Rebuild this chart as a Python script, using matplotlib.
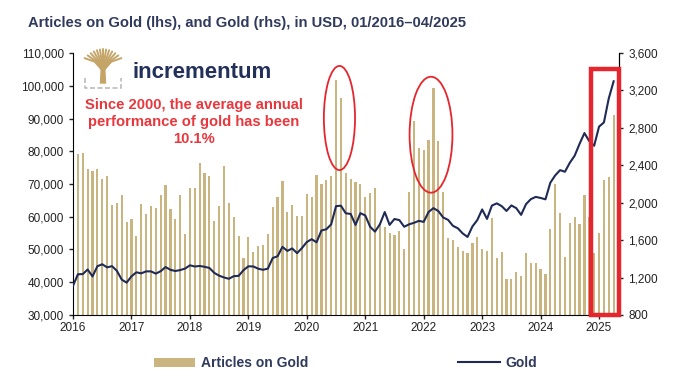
import numpy as np
import matplotlib.pyplot as plt
from matplotlib.patches import Ellipse, Rectangle
from matplotlib.lines import Line2D
from matplotlib.patches import Patch

plt.rcParams['font.family'] = ['Liberation Sans', 'DejaVu Sans']

# monthly data, 01/2016 - 04/2025
articles = [79200, 79600, 74500, 74000, 74700, 71400, 72500, 63600, 64100, 66600, 58500, 59200,
            54100, 63900, 60800, 63400, 62800, 66600, 69600, 62300, 59300, 66600, 54600, 68700,
            68700, 76300, 73500, 72400, 58700, 63400, 75600, 64100, 60000, 54200, 47300, 53900,
            49300, 51200, 51400, 54600, 63100, 66100, 71000, 61300, 63600, 60200, 60200, 66800,
            66100, 72800, 70000, 71200, 72400, 101800, 96400, 73300, 71400, 70700, 69900, 65900,
            67200, 68700, 58200, 57000, 55100, 54400, 55500, 50100, 67700, 89200, 80900, 80400,
            83400, 99200, 83200, 67700, 53400, 52900, 50700, 49600, 48800, 51900, 53900, 50200,
            49600, 59500, 47300, 49300, 40900, 40900, 43000, 41900, 48800, 45800, 45800, 44000,
            42400, 56200, 70000, 61100, 47700, 58200, 59800, 57700, 66600, 60000, 49000, 55100,
            71200, 72000, 91200]

gold = [1112, 1235, 1237, 1286, 1212, 1321, 1342, 1309, 1322, 1272, 1178, 1146,
        1213, 1256, 1245, 1266, 1266, 1242, 1268, 1312, 1283, 1270, 1280, 1296,
        1331, 1318, 1324, 1315, 1303, 1250, 1220, 1201, 1187, 1215, 1218, 1279,
        1320, 1319, 1295, 1283, 1295, 1409, 1428, 1528, 1485, 1511, 1461, 1515,
        1580, 1610, 1577, 1703, 1716, 1768, 1963, 1968, 1887, 1880, 1763, 1888,
        1864, 1743, 1691, 1769, 1900, 1763, 1826, 1814, 1743, 1769, 1785, 1806,
        1795, 1901, 1942, 1911, 1842, 1817, 1753, 1727, 1672, 1634, 1746, 1814,
        1928, 1827, 1969, 1993, 1964, 1912, 1971, 1942, 1870, 1984, 2038, 2062,
        2051, 2036, 2214, 2292, 2348, 2331, 2427, 2503, 2629, 2744, 2658, 2609,
        2813, 2858, 3115, 3298]

years = list(range(2016, 2026))

bar_col = '#CAB47F'
line_col = '#1F2B55'
red = '#E5262E'
txt_col = '#222222'
logo_gold = '#C4A567'

fig = plt.figure(figsize=(6.8, 3.77), dpi=100)
ax = fig.add_axes([0.1074, 0.1645, 0.8029, 0.6949])
ax2 = ax.twinx()

x_bar = np.arange(1, len(articles) + 1)
x_line = np.arange(len(gold))
ax.bar(x_bar, articles, width=0.45, color=bar_col, zorder=2)
ax2.plot(x_line, gold, color=line_col, linewidth=1.5, zorder=3)

ax.set_xlim(0, 112.1)
ax.set_ylim(30000, 110000)
ax2.set_ylim(800, 3600)
ax.set_xticks([12 * (y - 2016) for y in years])
ax.set_xticklabels([str(y) for y in years])
ax.set_yticks(range(30000, 110001, 10000))
ax.set_yticklabels([f"{v:,}" for v in range(30000, 110001, 10000)])
ax2.set_yticks(range(800, 3601, 400))
ax2.set_yticklabels([f"{v:,}" for v in range(800, 3601, 400)])

for a in (ax, ax2):
    a.spines['top'].set_visible(False)
    a.tick_params(labelsize=8.5, colors=txt_col, length=3, width=1)
ax.tick_params(axis='x', pad=2)
ax2.spines['left'].set_visible(False)
ax2.spines['bottom'].set_visible(False)

# highlight ellipses and 2025 box
ax.add_patch(Ellipse((54.7, 90150), 6.4, 31800, fill=False, edgecolor=red, linewidth=1.3, zorder=4))
ax.add_patch(Ellipse((73.5, 85050), 8.8, 35400, fill=False, edgecolor=red, linewidth=1.3, zorder=4))
ax2.add_patch(Rectangle((106.3, 30000), 5.75, 75100, transform=ax.transData, fill=False,
                        edgecolor=red, linewidth=3.2, zorder=5, clip_on=False))

# title
fig.text(0.041, 0.94, "Articles on Gold (lhs), and Gold (rhs), in USD, 01/2016\u201304/2025",
         fontsize=10.6, fontweight='bold', color='#2F3A5C', va='center', ha='left')

# logo: simple tree mark
lax = fig.add_axes([83 / 680, 1 - 90 / 377, 40 / 680, 42 / 377])
lax.set_xlim(0, 1)
lax.set_ylim(0, 1)
lax.axis('off')
lax.fill([0.42, 0.58, 0.56, 0.44], [0.15, 0.15, 0.55, 0.55], color=logo_gold, lw=0)
for tx in np.linspace(0.04, 0.96, 13):
    ty = 0.97 - 0.25 * (2 * (tx - 0.5)) ** 2
    mx = 0.5 + (tx - 0.5) * 0.45
    lax.plot([0.5, mx, tx], [0.45, 0.62 + 0.1 * (1 - abs(tx - 0.5)), ty],
             color=logo_gold, linewidth=1.4, solid_capstyle='round')
lax.plot([0.05, 0.05, 0.95, 0.95], [0.28, 0.04, 0.04, 0.28], color='#BBBBBB', linewidth=1.2,
         linestyle=(0, (3, 1.5)))
fig.text(133 / 680, 1 - 73 / 377, "incrementum", fontsize=16, fontweight='bold',
         color='#23305A', va='center', ha='left')

# red annotation
fig.text(194 / 680, 1 - 122 / 377, "Since 2000, the average annual\nperformance of gold has been\n10.1%",
         fontsize=10.6, fontweight='bold', color='#E8383D', ha='center', va='center', linespacing=1.3)

handles = [Patch(facecolor=bar_col, edgecolor='none'), Line2D([], [], color=line_col, linewidth=1.5)]
fig.legend(handles, ["Articles on Gold", "Gold"], loc='center', bbox_to_anchor=(0.508, 0.037), ncol=2,
           frameon=False, handlelength=3.0, handleheight=0.6, handletextpad=0.4, columnspacing=10.8,
           prop={'weight': 'bold', 'size': 10}, labelcolor='#2F3A5C')

fig.savefig("out.png", dpi=100)
